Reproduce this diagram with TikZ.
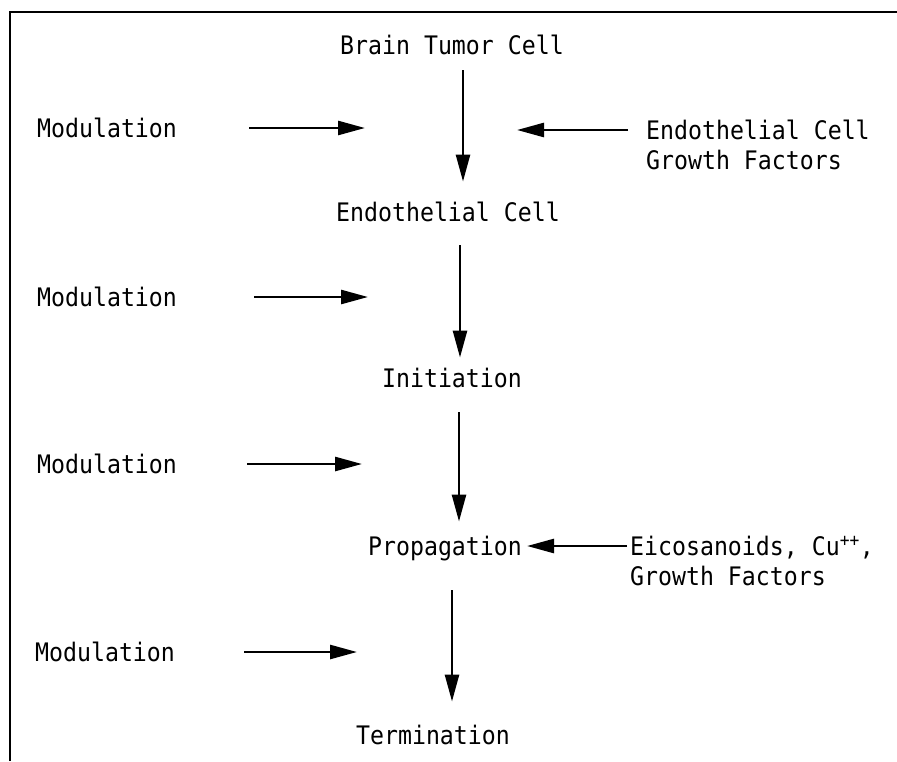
\documentclass[tikz,border=0pt]{standalone}
\usepackage{fontspec}
\setmonofont[FakeStretch=0.91]{DejaVu Sans Mono}
\usetikzlibrary{arrows.meta}

\begin{document}
\begin{tikzpicture}[x=1pt, y=-1pt,
		txt/.style={font=\ttfamily\fontsize{25.5}{30}\selectfont, inner sep=0pt},
		stage/.style={txt, text height=18.5pt, text depth=0pt},
		flow/.style={line width=2.6pt, -{Triangle[length=27pt,width=14pt]}}]
	
	\useasboundingbox (0,0) rectangle (897,761);
	
	% Frame (top and left only)
	\draw[line width=2.4pt] (10,761) -- (10,12) -- (897,12);
	
	% Main sequence
	\node[stage] (tumor) at (452,45) {Brain Tumor Cell};
	\node[stage] (endo)  at (448,212) {Endothelial Cell};
	\node[stage] (init)  at (452,378) {Initiation};
	\node[stage] (prop)  at (445,546) {Propagation};
	\node[stage] (term)  at (433,735) {Termination};
	
	\draw[flow, shorten <=16pt, shorten >=21pt] ([xshift=11pt]tumor.south) -- ([xshift=15pt]endo.north);
	\draw[flow, shorten <=24pt, shorten >=11pt] ([xshift=12pt]endo.south) -- ([xshift=8pt]init.north);
	\draw[flow, shorten <=25pt, shorten >=15pt] ([xshift=7pt]init.south) -- ([xshift=14pt]prop.north);
	\draw[flow, shorten <=35pt, shorten >=24pt] ([xshift=7pt]prop.south) -- ([xshift=19pt]term.north);
	
	% Modulation
	\node[stage, anchor=west] (mod1) at (37,128) {Modulation};
	\node[stage, anchor=west] (mod2) at (37,297) {Modulation};
	\node[stage, anchor=west] (mod3) at (37,464) {Modulation};
	\node[stage, anchor=west] (mod4) at (35,652) {Modulation};
	
	\coordinate (m1) at (365,128);
	\coordinate (m2) at (368,297);
	\coordinate (m3) at (362,464);
	\coordinate (m4) at (357,652);
	
	\draw[flow, shorten <=72pt] (mod1) -- (m1);
	\draw[flow, shorten <=77pt] (mod2) -- (m2);
	\draw[flow, shorten <=70pt] (mod3) -- (m3);
	\draw[flow, shorten <=69pt] (mod4) -- (m4);
	
	% Factors from the right
	\node[txt, anchor=west, align=left] (egf) at (646,145) {Endothelial Cell\\Growth Factors};
	\coordinate (g1) at (517,130);
	\draw[flow, shorten <=18pt] ([yshift=15pt]egf.west) -- (g1);
	
	\node[txt, anchor=west, align=left] (eico) at (630,561) {Eicosanoids, Cu\textsuperscript{++},\\Growth Factors};
	\draw[flow, shorten <=3pt, shorten >=5pt] ([yshift=15pt]eico.west) -- (prop.east);
	
\end{tikzpicture}
\end{document}
